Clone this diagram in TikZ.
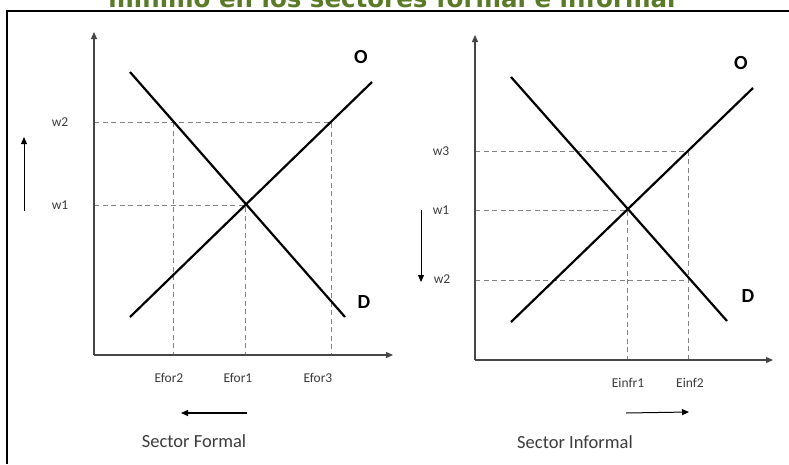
\documentclass[tikz,border=0pt]{standalone}
\usepackage{fontspec}
\setmainfont{Carlito}
\newfontfamily\titlefont{DejaVu Sans}
\usetikzlibrary{arrows.meta}
\definecolor{titlegreen}{RGB}{90,122,40}
\definecolor{axisgray}{RGB}{70,70,70}
\definecolor{dashgray}{RGB}{130,130,130}
\definecolor{labelgray}{RGB}{60,60,60}
\tikzset{
  curve/.style={line width=2.2pt, black},
  axis/.style={line width=1.3pt, axisgray, -{Triangle[length=7pt,width=6pt]}},
  guide/.style={line width=0.9pt, dashgray, dash pattern=on 5pt off 3.5pt},
  tick/.style={font=\fontsize{13.5}{15}\selectfont, text=labelgray, inner sep=0pt},
  curvelabel/.style={font=\bfseries\fontsize{20}{22}\selectfont, inner sep=0pt},
  sector/.style={font=\fontsize{18.5}{20}\selectfont, text=labelgray, inner sep=0pt},
  move/.style={line width=1.3pt, black, -{Triangle[length=7pt,width=6pt]}},
  frameline/.style={line width=2pt, black}
}
\begin{document}
\begin{tikzpicture}[x=1pt,y=-1pt]
\useasboundingbox (0,0) rectangle (789,464);
\fill[white] (0,0) rectangle (789,464);
% title, cut off at the top edge as in the reference
\begin{scope}
\clip (0,0) rectangle (789,464);
\node[anchor=base, font=\titlefont\bfseries\fontsize{24.5}{28}\selectfont, text=titlegreen, inner sep=0pt] (title) at (392,7) {mínimo en los sectores formal e informal};
\end{scope}
% frame (top and left only)
\coordinate (fTL) at (7,11);
\coordinate (fTR) at (789,11);
\coordinate (fBL) at (7,464);
\draw[frameline] (fTR) -- (fTL) -- (fBL);

% ===== Left panel: Sector Formal =====
\coordinate (LO) at (94,355);
\coordinate (LY) at (94,32);
\coordinate (LX) at (393,355);
\coordinate (LDa) at (130,72);
\coordinate (LDb) at (345,317);
\coordinate (LSa) at (130,317);
\coordinate (LSb) at (372,82);
\coordinate (LE) at (245,205);
\coordinate (Lw2y) at (94,122);
\coordinate (Lw1y) at (94,205);
\coordinate (Lp2) at (173,122);
\coordinate (Lp3) at (331,122);
\coordinate (Lb2) at (173,355);
\coordinate (Lb3) at (331,355);
\coordinate (Lb1) at (245,355);

\draw[guide] (Lw2y) -- (Lp3) -- (Lb3);
\draw[guide] (Lp2) -- (Lb2);
\draw[guide] (Lw1y) -- (LE) -- (Lb1);
\draw[axis] (LO) -- (LY);
\draw[axis] (LO) -- (LX);
\draw[curve] (LDa) -- (LDb);
\draw[curve] (LSa) -- (LSb);

\node[tick] (Lw2) at (60,122) {w2};
\node[tick] (Lw1) at (60,205) {w1};
\coordinate (Lupa) at (24,211);
\coordinate (Lupb) at (24,137);
\draw[move, line width=1pt] (Lupa) -- (Lupb);
\node[curvelabel] (LOl) at (361,57) {O};
\node[curvelabel] (LDl) at (364,302) {D};
\node[tick] (Ef2) at (169,378) {Efor2};
\node[tick] (Ef1) at (238,378) {Efor1};
\node[tick] (Ef3) at (318,378) {Efor3};
\coordinate (Lma) at (247,413);
\coordinate (Lmb) at (181,413);
\draw[move] (Lma) -- (Lmb);
\node[sector] (SF) at (194,441) {Sector Formal};

% ===== Right panel: Sector Informal =====
\coordinate (RO) at (475,360);
\coordinate (RY) at (475,35);
\coordinate (RX) at (773,360);
\coordinate (RDa) at (511,77);
\coordinate (RDb) at (727,321);
\coordinate (RSa) at (511,322);
\coordinate (RSb) at (753,88);
\coordinate (RE) at (627,210);
\coordinate (Rw3y) at (475,151);
\coordinate (Rw1y) at (475,210);
\coordinate (Rw2y) at (475,280);
\coordinate (Rp3) at (688,151);
\coordinate (Rp2) at (688,280);
\coordinate (Rb2) at (688,360);
\coordinate (Rb1) at (627,360);

\draw[guide] (Rw3y) -- (Rp3) -- (Rb2);
\draw[guide] (Rw2y) -- (Rp2);
\draw[guide] (Rw1y) -- (RE) -- (Rb1);
\draw[axis] (RO) -- (RY);
\draw[axis] (RO) -- (RX);
\draw[curve] (RDa) -- (RDb);
\draw[curve] (RSa) -- (RSb);

\node[tick] (Rw3) at (441,151) {w3};
\node[tick] (Rw1) at (441,210) {w1};
\node[tick] (Rw2) at (442,279) {w2};
\coordinate (Rdna) at (421,210);
\coordinate (Rdnb) at (421,282);
\draw[move, line width=1pt] (Rdna) -- (Rdnb);
\node[curvelabel] (ROl) at (741,63) {O};
\node[curvelabel] (RDl) at (748,296) {D};
\node[tick] (Ei1) at (628,383) {Einfr1};
\node[tick] (Ei2) at (690,383) {Einf2};
\coordinate (Rma) at (626,413);
\coordinate (Rmb) at (689,412);
\draw[move, line width=1pt] (Rma) -- (Rmb);
\node[sector] (SI) at (575,442) {Sector Informal};
\end{tikzpicture}
\end{document}
